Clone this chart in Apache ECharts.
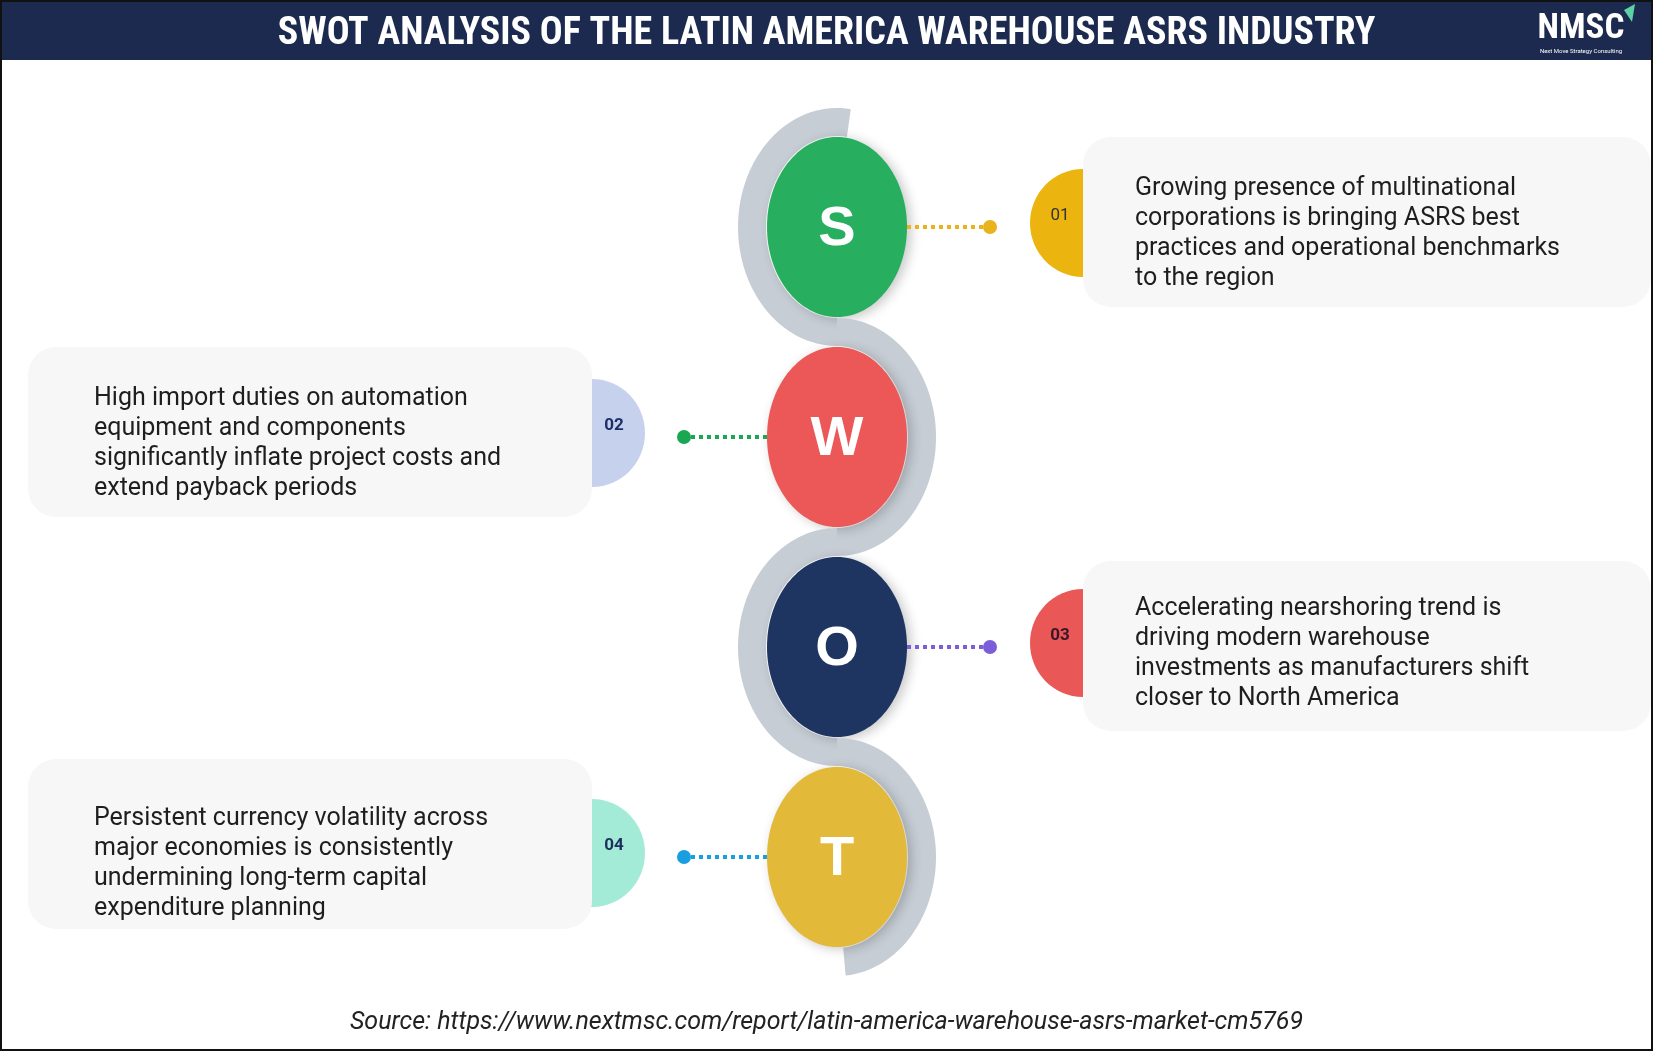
<!DOCTYPE html>
<html>
<head>
<meta charset="utf-8">
<script src="https://cdn.jsdelivr.net/npm/echarts@6/dist/echarts.min.js"></script>
<style>
  html, body { margin: 0; padding: 0; background: #fff; }
  #chart { width: 1653px; height: 1051px; }
</style>
</head>
<body>
<div id="chart"></div>
<script>
// SWOT rows
var letters = ['S', 'W', 'O', 'T'];
var numbers = ['01', '02', '03', '04'];
var descriptions = [
  'Growing presence of multinational\ncorporations is bringing ASRS best\npractices and operational benchmarks\nto the region',
  'High import duties on automation\nequipment and components\nsignificantly inflate project costs and\nextend payback periods',
  'Accelerating nearshoring trend is\ndriving modern warehouse\ninvestments as manufacturers shift\ncloser to North America',
  'Persistent currency volatility across\nmajor economies is consistently\nundermining long-term capital\nexpenditure planning'
];
var titleText = 'SWOT ANALYSIS OF THE LATIN AMERICA WAREHOUSE ASRS INDUSTRY';
var sourceText = 'Source: https://www.nextmsc.com/report/latin-america-warehouse-asrs-market-cm5769';

// colours
var circleColors = ['#28ae5f', '#ec5858', '#1e3461', '#e3b93a'];
var dotColors = ['#e9b31c', '#1aa752', '#7b5cd9', '#199fe0'];
var badgeColors = ['#ecb40f', '#c6d1ee', '#e95757', '#a4ebd7'];
var numberColors = ['#333333', '#1d2f66', '#3b1628', '#1d2f5c'];

var CX = 837;          // spine centre on the x axis
var condensed = '"Liberation Sans Narrow", "Arial Narrow", "Roboto Condensed", Roboto, sans-serif';

// half ring of the grey ribbon, angles in degrees (y down)
function ribbon(cx, cy, t0, t1) {
  var pts = [], n = 64, k, t;
  for (k = 0; k <= n; k++) {
    t = (t0 + (t1 - t0) * k / n) * Math.PI / 180;
    pts.push([cx + 99 * Math.cos(t), cy + 119 * Math.sin(t)]);
  }
  for (k = n; k >= 0; k--) {
    t = (t0 + (t1 - t0) * k / n) * Math.PI / 180;
    pts.push([cx + 71 * Math.cos(t), cy + 91 * Math.sin(t)]);
  }
  return pts;
}

function renderItem(params, api) {
  var i = api.value(0);
  var c = api.coord([CX, i]);
  var cx = c[0], cy = c[1];
  var left = i % 2 === 0;            // ribbon bends left, card sits right
  var last = i === letters.length - 1;
  var t0 = i === 0 ? -82 : -90;
  var t1 = left ? -270 : (last ? 85 : 90);

  var dotX = left ? cx + 153 : cx - 153;
  var edgeX = left ? cx + 70 : cx - 70;
  var cardX = left ? api.coord([1083, i])[0] : api.coord([28, i])[0];
  var cardW = left ? 568 : 564;
  var cardY = cy - 90 + (i === 2 ? 4 : 0) - (last ? 8 : 0);
  var badgeX = left ? cardX : cardX + cardW;
  var textX = left ? cardX + 52 : cardX + 66;
  var numX = left ? cardX - 23 : badgeX + 22;

  return {
    type: 'group',
    children: [
      { type: 'polygon', shape: { points: ribbon(cx, cy, t0, t1) }, style: { fill: '#c6cdd4' } },
      {
        type: 'ellipse', shape: { cx: cx, cy: cy, rx: 70, ry: 90 },
        style: { fill: circleColors[i], shadowBlur: 12, shadowOffsetX: 4, shadowOffsetY: 2, shadowColor: 'rgba(0,0,0,0.22)' }
      },
      {
        type: 'text',
        style: {
          text: letters[i], x: cx, y: cy + 3, fill: '#fff', align: 'center', verticalAlign: 'middle',
          fontSize: 56, fontWeight: 'bold', fontFamily: '"Liberation Sans", Arial, sans-serif'
        }
      },
      {
        type: 'line', shape: { x1: edgeX, y1: cy, x2: dotX, y2: cy },
        style: { stroke: dotColors[i], lineWidth: 4, lineDash: [4, 4] }
      },
      { type: 'circle', shape: { cx: dotX, cy: cy, r: 7 }, style: { fill: dotColors[i] } },
      { type: 'ellipse', shape: { cx: badgeX, cy: cy - 4, rx: 53, ry: 54 }, style: { fill: badgeColors[i] } },
      { type: 'rect', shape: { x: cardX, y: cardY, width: cardW, height: 170, r: 28 }, style: { fill: '#f7f7f7' } },
      {
        type: 'text',
        style: {
          text: descriptions[i], x: textX, y: cy + 7, fill: '#1e1e1e', align: 'left', verticalAlign: 'middle',
          fontSize: 25, lineHeight: 30, fontFamily: 'Roboto, "Noto Sans", sans-serif'
        }
      },
      {
        type: 'text',
        style: {
          text: numbers[i], x: numX, y: cy - 11, fill: numberColors[i], align: 'center', verticalAlign: 'middle',
          fontSize: 17, fontWeight: i === 0 ? 'normal' : 'bold', fontFamily: 'Roboto, sans-serif'
        }
      }
    ]
  };
}

var chart = echarts.init(document.getElementById('chart'), null, { renderer: 'canvas' });

chart.setOption({
  backgroundColor: '#ffffff',
  animation: false,
  title: [
    {
      text: titleText, left: 'center', top: 10,
      textStyle: { color: '#ffffff', fontSize: 38, fontWeight: 'bold', fontFamily: condensed }
    },
    {
      text: sourceText, left: 'center', top: 1005,
      textStyle: { color: '#222222', fontSize: 25, fontWeight: 'normal', fontStyle: 'italic', fontFamily: 'Roboto, sans-serif' }
    }
  ],
  graphic: [
    { type: 'rect', z: -1, shape: { x: 2, y: 2, width: 1649, height: 58 }, style: { fill: '#1b2a4e' } },
    { type: 'rect', z: 10, shape: { x: 1, y: 1, width: 1651, height: 1049 }, style: { fill: 'none', stroke: '#111', lineWidth: 2 } },
    {
      type: 'text', z: 10,
      style: { text: 'NMSC', x: 1581, y: 29, align: 'center', verticalAlign: 'middle', fill: '#ffffff', fontSize: 35, fontWeight: 'bold', fontFamily: condensed }
    },
    { type: 'polygon', z: 10, shape: { points: [[1624, 10], [1635, 4], [1632, 22]] }, style: { fill: '#5ed0a6' } },
    {
      type: 'text', z: 10,
      style: { text: 'Next Move Strategy Consulting', x: 1581, y: 51, align: 'center', verticalAlign: 'middle', fill: '#ffffff', fontSize: 6, fontFamily: 'Roboto, sans-serif' }
    }
  ],
  grid: { left: 0, right: 0, top: 122, bottom: 89 },
  xAxis: { type: 'value', min: 0, max: 1653, show: false },
  yAxis: { type: 'category', data: letters, inverse: true, show: false },
  series: [
    {
      type: 'custom',
      renderItem: renderItem,
      encode: { y: 0 },
      data: letters.map(function (d, i) { return [i]; })
    }
  ]
});
</script>
</body>
</html>
